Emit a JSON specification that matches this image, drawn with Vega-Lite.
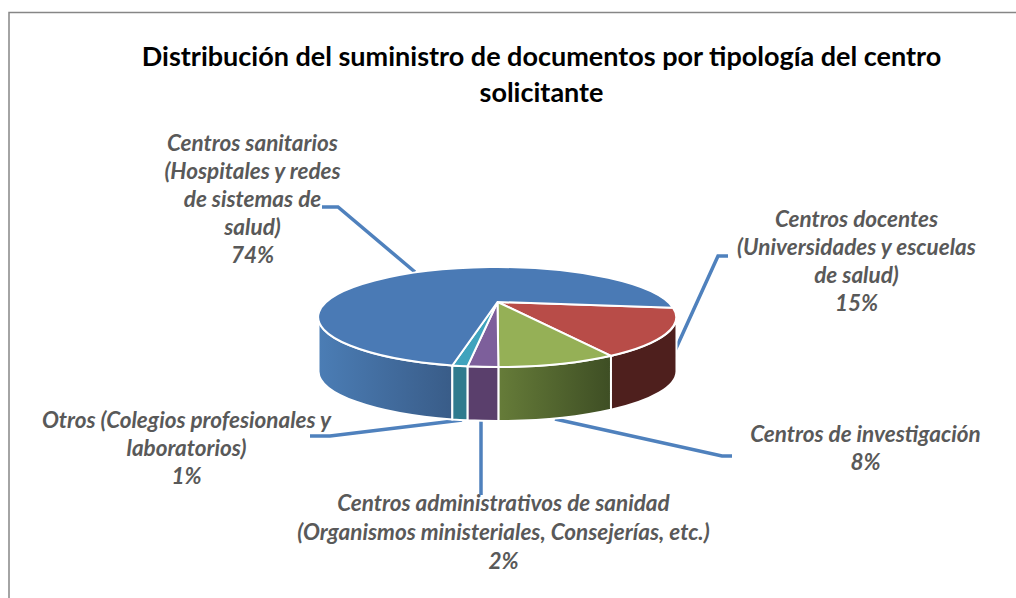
{"$schema":"https://vega.github.io/schema/vega-lite/v6.json","width":995,"height":561,"autosize":"none","padding":{"left":0,"right":21,"top":37,"bottom":0},"background":"white","config":{"view":{"stroke":null}},"title":{"text":["Distribución del suministro de documentos por tipología del centro","solicitante"],"anchor":"middle","dx":44,"dy":129,"baseline":"bottom","font":"Lato","fontSize":27,"fontWeight":"bold","color":"#000000","lineHeight":36},"data":{"values":[{"orden":1,"categoria":"Centros docentes","pct":15,"etiqueta":"Centros docentes\n(Universidades y escuelas\nde salud)\n15%"},{"orden":2,"categoria":"Centros de investigación","pct":8,"etiqueta":"Centros de investigación\n8%"},{"orden":3,"categoria":"Centros administrativos de sanidad","pct":2,"etiqueta":"Centros administrativos de sanidad\n(Organismos ministeriales, Consejerías, etc.)\n2%"},{"orden":4,"categoria":"Otros","pct":1,"etiqueta":"Otros (Colegios profesionales y\nlaboratorios)\n1%"},{"orden":5,"categoria":"Centros sanitarios","pct":74,"etiqueta":"Centros sanitarios\n(Hospitales  y redes\nde sistemas de\nsalud)\n74%"}]},"transform":[{"window":[{"op":"sum","field":"pct","as":"cum"}],"sort":[{"field":"orden"}]},{"calculate":"(97+3.6*(datum.cum-datum.pct))*PI/180","as":"a0"},{"calculate":"(97+3.6*datum.cum)*PI/180","as":"a1"},{"calculate":"max(datum.a0,108.2*PI/180)","as":"s0"},{"calculate":"min(datum.a1,251.8*PI/180)","as":"s1"},{"calculate":"round(100*170*sin(datum.a0)/(1+0.313*cos(datum.a0)))/100+' '+round(100*(-15.5-44.7*cos(datum.a0)/(1+0.313*cos(datum.a0))))/100","as":"p0"},{"calculate":"round(100*170*sin(datum.a1)/(1+0.313*cos(datum.a1)))/100+' '+round(100*(-15.5-44.7*cos(datum.a1)/(1+0.313*cos(datum.a1))))/100","as":"p1"},{"calculate":"'M0 -15.5L'+datum.p0+'A179 50 0 '+(datum.pct>50?1:0)+' 1 '+datum.p1+'Z'","as":"cara"},{"calculate":"round(100*170*sin(datum.s0)/(1+0.313*cos(datum.s0)))/100","as":"sx0"},{"calculate":"round(100*(-15.5-44.7*cos(datum.s0)/(1+0.313*cos(datum.s0))))/100","as":"sy0"},{"calculate":"round(100*170*sin(datum.s1)/(1+0.313*cos(datum.s1)))/100","as":"sx1"},{"calculate":"round(100*(-15.5-44.7*cos(datum.s1)/(1+0.313*cos(datum.s1))))/100","as":"sy1"},{"calculate":"'M'+datum.sx0+' '+datum.sy0+'A179 50 0 0 1 '+datum.sx1+' '+datum.sy1+'L'+datum.sx1+' '+(datum.sy1+54)+'A179 50 0 0 0 '+datum.sx0+' '+(datum.sy0+54)+'Z'","as":"lado"}],"resolve":{"scale":{"fill":"independent"}},"layer":[{"transform":[{"filter":"datum.orden==1"}],"mark":{"type":"point","filled":false,"opacity":1,"size":4,"stroke":"#868686","strokeWidth":1.5,"shape":"M-488.5 280.5L-488.5 -305L518.5 -305"}},{"mark":{"type":"point","filled":false,"opacity":1,"size":4,"stroke":"#4f81bd","strokeWidth":3.5},"encoding":{"shape":{"field":"categoria","type":"nominal","legend":null,"scale":{"domain":["Centros docentes","Centros de investigación","Centros administrativos de sanidad","Otros","Centros sanitarios"],"range":["M165.5 59.5L220.5 -61.5L230.5 -61.5","M57.5 101.5L224.5 138.5L234.5 138.5","M-16.5 103.5L-16.5 177.5","M-35.5 102.5L-167.5 118.5L-187.5 118.5","M-82.5 -45.5L-159.5 -110.5L-175.5 -110.5"]}}}},{"transform":[{"filter":"datum.orden==5"}],"mark":{"type":"point","filled":true,"opacity":1,"size":4,"stroke":"white","strokeWidth":2,"fill":{"gradient":"linear","x1":0,"y1":0,"x2":1,"y2":0,"stops":[{"offset":0,"color":"#4b7db5"},{"offset":1,"color":"#395c88"}]}},"encoding":{"shape":{"field":"lado","type":"nominal","scale":null}}},{"transform":[{"filter":"datum.orden==2"}],"mark":{"type":"point","filled":true,"opacity":1,"size":4,"stroke":"white","strokeWidth":2,"fill":{"gradient":"linear","x1":0,"y1":0,"x2":1,"y2":0,"stops":[{"offset":0,"color":"#667c39"},{"offset":1,"color":"#3e4e24"}]}},"encoding":{"shape":{"field":"lado","type":"nominal","scale":null}}},{"transform":[{"filter":"datum.orden==1||datum.orden==3||datum.orden==4"}],"mark":{"type":"point","filled":true,"opacity":1,"size":4,"stroke":"white","strokeWidth":2},"encoding":{"shape":{"field":"lado","type":"nominal","scale":null},"fill":{"field":"categoria","type":"nominal","legend":null,"scale":{"domain":["Centros docentes","Centros administrativos de sanidad","Otros"],"range":["#4e1f1d","#5a3f6c","#2f7b8e"]}}}},{"mark":{"type":"point","filled":true,"opacity":1,"size":4,"stroke":"white","strokeWidth":2},"encoding":{"shape":{"field":"cara","type":"nominal","scale":null},"fill":{"field":"categoria","type":"nominal","legend":null,"scale":{"domain":["Centros docentes","Centros de investigación","Centros administrativos de sanidad","Otros","Centros sanitarios"],"range":["#b84c48","#95b056","#7d5f9b","#3fa3bd","#4a7ab5"]}}}},{"transform":[{"filter":"datum.orden==5"}],"mark":{"type":"text","dx":-245,"dy":-173.5,"font":"Lato","fontSize":22.5,"fontStyle":"italic","fontWeight":"bold","color":"#595959","lineBreak":"\n","lineHeight":28,"align":"center","baseline":"middle"},"encoding":{"text":{"field":"etiqueta"}}},{"transform":[{"filter":"datum.orden==1"}],"mark":{"type":"text","dx":359,"dy":-97.5,"font":"Lato","fontSize":22.5,"fontStyle":"italic","fontWeight":"bold","color":"#595959","lineBreak":"\n","lineHeight":28,"align":"center","baseline":"middle"},"encoding":{"text":{"field":"etiqueta"}}},{"transform":[{"filter":"datum.orden==2"}],"mark":{"type":"text","dx":368,"dy":117.5,"font":"Lato","fontSize":22.5,"fontStyle":"italic","fontWeight":"bold","color":"#595959","lineBreak":"\n","lineHeight":28,"align":"center","baseline":"middle"},"encoding":{"text":{"field":"etiqueta"}}},{"transform":[{"filter":"datum.orden==3"}],"mark":{"type":"text","dx":6,"dy":186.5,"font":"Lato","fontSize":22.5,"fontStyle":"italic","fontWeight":"bold","color":"#595959","lineBreak":"\n","lineHeight":29,"align":"center","baseline":"middle"},"encoding":{"text":{"field":"etiqueta"}}},{"transform":[{"filter":"datum.orden==4"}],"mark":{"type":"text","dx":-311,"dy":103.5,"font":"Lato","fontSize":22.5,"fontStyle":"italic","fontWeight":"bold","color":"#595959","lineBreak":"\n","lineHeight":28,"align":"center","baseline":"middle"},"encoding":{"text":{"field":"etiqueta"}}}]}
